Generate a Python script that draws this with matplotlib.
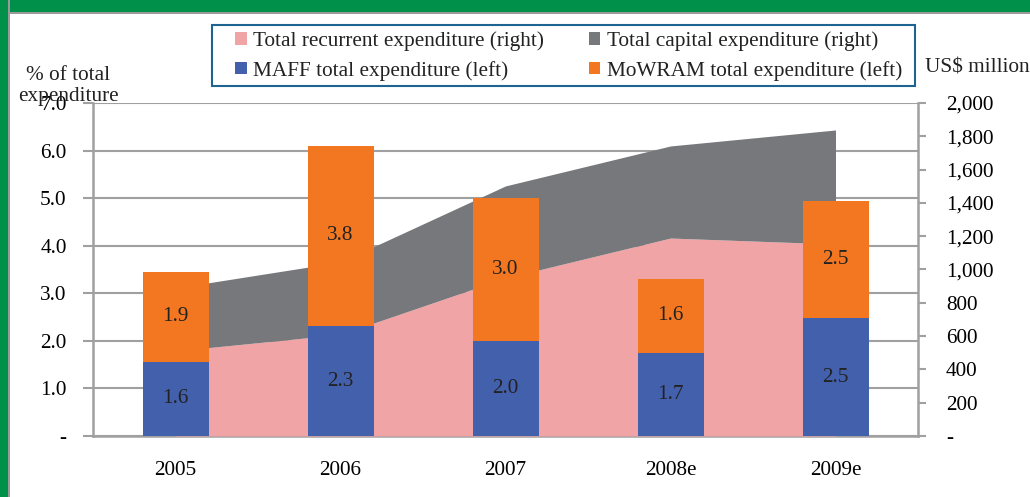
import matplotlib
matplotlib.use('Agg')
import matplotlib.pyplot as plt
from matplotlib.patches import Rectangle
from matplotlib.ticker import FuncFormatter, FixedLocator
import numpy as np

# data
years = ['2005', '2006', '2007', '2008e', '2009e']
maff = [1.56, 2.31, 2.00, 1.74, 2.48]          # % of total expenditure (left)
mowram = [1.89, 3.79, 3.00, 1.57, 2.46]        # % of total expenditure (left)
recurrent = [511, 610, 949, 1189, 1153]        # US$ million (right)
capital = [378, 435, 553, 553, 685]            # US$ million (right)

c_pink = '#F0A4A6'
c_gray = '#77787B'
c_blue = '#4360AD'
c_orange = '#F37721'
c_axis = '#A0A0A0'

plt.rcParams['font.family'] = ['Liberation Serif', 'DejaVu Serif']
fs = 15.3

W, H = 1030, 497
fig = plt.figure(figsize=(W / 100, H / 100), dpi=100)

# green frame (top + left) with thin gray inner line
fig.add_artist(Rectangle((0, 1 - 14 / H), 1, 14 / H, transform=fig.transFigure,
                         facecolor='#9A9A9A', edgecolor='none'))
fig.add_artist(Rectangle((0, 1 - 12 / H), 1, 12 / H, transform=fig.transFigure,
                         facecolor='#00904A', edgecolor='none'))
fig.add_artist(Rectangle((0, 0), 10 / W, 1, transform=fig.transFigure,
                         facecolor='#9A9A9A', edgecolor='none'))
fig.add_artist(Rectangle((0, 0), 8 / W, 1, transform=fig.transFigure,
                         facecolor='#00904A', edgecolor='none'))

pos = [93 / W, (H - 436) / H, 825 / W, 333 / H]
ax = fig.add_axes(pos)          # left scale, grid
axr = ax.twinx()                # right scale, areas
axb = ax.twinx()                # left scale, bars on top

x = np.arange(len(years))

# areas (right axis)
total = np.array(recurrent) + np.array(capital)
axr.fill_between(x, 0, recurrent, color=c_pink, lw=0, label='Total recurrent expenditure (right)')
axr.fill_between(x, recurrent, total, color=c_gray, lw=0, label='Total capital expenditure (right)')

# stacked bars (left axis)
b1 = axb.bar(x, maff, width=0.4, color=c_blue, label='MAFF total expenditure (left)')
b2 = axb.bar(x, mowram, width=0.4, bottom=maff, color=c_orange,
             label='MoWRAM total expenditure (left)')
for i in range(len(x)):
    axb.text(x[i], maff[i] / 2, '%.1f' % maff[i], ha='center', va='center',
             fontsize=fs, color='#222222')
    axb.text(x[i], maff[i] + mowram[i] / 2, '%.1f' % mowram[i], ha='center',
             va='center', fontsize=fs, color='#222222')

for a in (ax, axr, axb):
    a.set_xlim(-0.5, len(years) - 0.5)
ax.set_ylim(0, 7)
axb.set_ylim(0, 7)
axr.set_ylim(0, 2000)

# left axis
ax.yaxis.set_major_locator(FixedLocator(np.arange(0, 7.1, 1)))
ax.yaxis.set_major_formatter(FuncFormatter(lambda v, p: '-' if v == 0 else '%.1f' % v))
ax.grid(axis='y', color=c_axis, lw=1.5)
ax.set_axisbelow(True)
ax.tick_params(axis='y', direction='out', length=7, width=1.5, color=c_axis,
               labelsize=fs, pad=12)

# x axis: ticks at category boundaries, labels at centers
ax.xaxis.set_major_locator(FixedLocator(np.arange(-0.5, len(years), 1)))
ax.xaxis.set_minor_locator(FixedLocator(x))
ax.set_xticklabels([''] * (len(years) + 1))
ax.set_xticklabels(years, minor=True)
ax.tick_params(axis='x', which='major', direction='out', length=6, width=1.5, color=c_axis)
ax.tick_params(axis='x', which='minor', length=0, labelsize=fs, pad=18)

# right axis
axr.yaxis.set_major_locator(FixedLocator(np.arange(0, 2001, 200)))
axr.yaxis.set_major_formatter(FuncFormatter(lambda v, p: '-' if v == 0 else '{:,.0f}'.format(v)))
axr.tick_params(axis='y', direction='out', length=6, width=1.5, color=c_axis,
                labelsize=fs, pad=14)

axb.set_yticks([])
axb.set_xticks([])
for a in (ax, axr, axb):
    for s in a.spines.values():
        s.set_visible(False)
ax.spines['left'].set_visible(True)
ax.spines['bottom'].set_visible(True)
axr.spines['right'].set_visible(True)
for s in (ax.spines['left'], ax.spines['bottom'], axr.spines['right']):
    s.set_color(c_axis)
    s.set_linewidth(1.8)

# axis titles
fig.text(68 / W, 1 - 86 / H, '% of total\nexpenditure', ha='center', va='center',
         fontsize=fs, linespacing=1.15, color='#222222')
fig.text(977 / W, 1 - 68 / H, 'US$ million', ha='center', va='center',
         fontsize=fs, color='#222222')

# legend (frame drawn separately so it can be wider than the entries)
hr, lr = axr.get_legend_handles_labels()
handles = [hr[0], b1, hr[1], b2]
labels = [lr[0], b1.get_label(), lr[1], b2.get_label()]
leg = fig.legend(handles, labels, ncol=2, loc='center',
                 bbox_to_anchor=((217 + 920) / 2 / W, 1 - 56 / H),
                 fontsize=fs, frameon=False, handlelength=0.55,
                 handleheight=0.55, handletextpad=0.3, columnspacing=2.1,
                 labelspacing=0.45, borderpad=0.3, borderaxespad=0)
for t in leg.get_texts():
    t.set_color('#222222')
fig.add_artist(Rectangle((212 / W, 1 - 86 / H), 703 / W, 61 / H,
                         transform=fig.transFigure, facecolor='none',
                         edgecolor='#1F6491', lw=1.5))

fig.savefig('out.png', dpi=100)
